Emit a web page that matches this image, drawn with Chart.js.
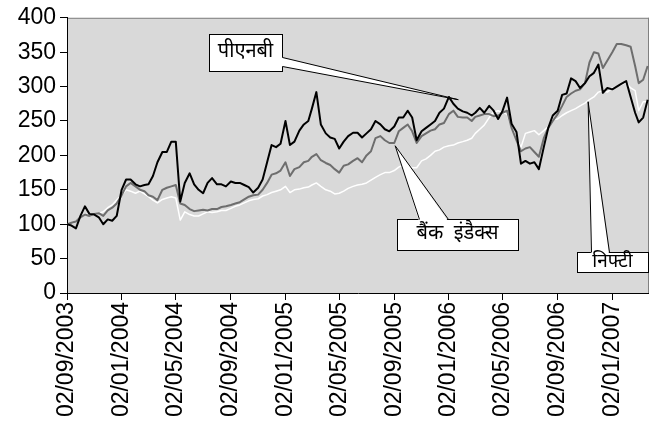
<!DOCTYPE html>
<html><head><meta charset="utf-8">
<script src="https://cdn.jsdelivr.net/npm/chart.js@4/dist/chart.umd.min.js"></script>
<style>html,body{margin:0;padding:0;background:#fff;overflow:hidden;}</style>
</head><body>
<canvas id="c" width="649" height="430"></canvas>
<script>
const dates = [
'2003-09-02','2003-09-12','2003-09-22','2003-10-02','2003-10-12','2003-10-22','2003-11-02','2003-11-12','2003-11-22','2003-12-02','2003-12-12','2003-12-22',
'2004-01-02','2004-01-12','2004-01-22','2004-02-02','2004-02-12','2004-02-22','2004-03-02','2004-03-12','2004-03-22','2004-04-02','2004-04-12','2004-04-22',
'2004-05-02','2004-05-12','2004-05-22','2004-06-02','2004-06-12','2004-06-22','2004-07-02','2004-07-12','2004-07-22','2004-08-02','2004-08-12','2004-08-22',
'2004-09-02','2004-09-12','2004-09-22','2004-10-02','2004-10-12','2004-10-22','2004-11-02','2004-11-12','2004-11-22','2004-12-02','2004-12-12','2004-12-22',
'2005-01-02','2005-01-12','2005-01-22','2005-02-02','2005-02-12','2005-02-22','2005-03-02','2005-03-12','2005-03-22','2005-04-02','2005-04-12','2005-04-22',
'2005-05-02','2005-05-12','2005-05-22','2005-06-02','2005-06-12','2005-06-22','2005-07-02','2005-07-12','2005-07-22','2005-08-02','2005-08-12','2005-08-22',
'2005-09-02','2005-09-12','2005-09-22','2005-10-02','2005-10-12','2005-10-22','2005-11-02','2005-11-12','2005-11-22','2005-12-02','2005-12-12','2005-12-22',
'2006-01-02','2006-01-12','2006-01-22','2006-02-02','2006-02-12','2006-02-22','2006-03-02','2006-03-12','2006-03-22','2006-04-02','2006-04-12','2006-04-22',
'2006-05-02','2006-05-12','2006-05-22','2006-06-02','2006-06-12','2006-06-22','2006-07-02','2006-07-12','2006-07-22','2006-08-02','2006-08-12','2006-08-22',
'2006-09-02','2006-09-12','2006-09-22','2006-10-02','2006-10-12','2006-10-22','2006-11-02','2006-11-12','2006-11-22','2006-12-02','2006-12-12','2006-12-22',
'2007-01-02','2007-01-12','2007-01-22','2007-02-02','2007-02-12','2007-02-22','2007-03-02','2007-03-12','2007-03-22'
];
const pnb = [
100,98,94, 112,126,115, 114,110,100, 107,105,112,
150,165,165, 158,155,157, 158,170,190, 205,205,220,
220,133,160, 174,158,150, 145,160,167, 158,158,155,
162,160,160, 157,154,146, 153,165,190, 215,212,217,
250,215,220, 236,245,250, 268,292,245, 232,226,224,
210,220,228, 233,233,226, 232,238,250, 245,238,235,
242,255,255, 265,255,222, 235,240,245, 250,262,268,
285,275,268, 264,262,258, 262,269,262, 272,265,253,
265,284,246, 234,188,192, 188,190,180, 212,240,258,
265,288,290, 312,308,298, 305,315,320, 332,291,298,
296,300,304, 308,285,262, 248,255,281
];
const bankIndex = [
100,102,104, 110,114,112, 115,116,112, 120,124,130,
142,155,160, 155,150,148, 142,140,135, 150,153,155,
157,130,128, 122,119,120, 121,120,122, 122,125,126,
128,130,132, 136,140,142, 143,150,160, 172,174,178,
190,170,180, 183,190,192, 198,202,193, 189,186,180,
175,185,187, 192,196,190, 200,206,225, 228,222,218,
218,235,240, 245,235,218, 228,232,236, 238,245,247,
260,265,256, 255,255,250, 256,258,260, 260,257,258,
262,265,240, 222,206,210, 212,205,198, 225,240,250,
260,272,285, 290,294,296, 305,335,350, 348,327,338,
350,362,362, 360,358,330, 305,310,330
];
const nifty = [
100,101,104, 110,115,114, 114,116,118, 124,128,135,
142,150,148, 145,148,144, 140,135,131, 136,138,140,
138,106,118, 114,112,112, 115,118,117, 118,120,120,
123,126,128, 131,134,136, 137,141,143, 146,148,150,
155,146,150, 151,153,154, 157,160,155, 150,148,144,
145,148,152, 155,157,158, 160,164,168, 172,175,175,
178,183,186, 185,182,182, 192,195,200, 206,208,212,
214,215,218, 220,222,225, 232,238,244, 255,263,265,
262,260,240, 225,212,232, 234,236,230, 236,242,252,
253,258,262, 265,268,272, 276,281,285, 292,294,292,
298,300,303, 306,298,294, 265,278,278
];
const tickLabels = ['02/09/2003','02/01/2004','02/05/2004','02/09/2004','02/01/2005','02/05/2005','02/09/2005','02/01/2006','02/05/2006','02/09/2006','02/01/2007'];
const seriesNames = ['पीएनबी','बैंक  इंडैक्स','निफ्टी'];

const START = Date.UTC(2003, 8, 2);
function isoDay(s){ const p = s.split('-').map(Number); return (Date.UTC(p[0], p[1]-1, p[2]) - START)/86400000; }
function dmyDay(s){ const p = s.split('/').map(Number); return (Date.UTC(p[2], p[1]-1, p[0]) - START)/86400000; }
const tickDays = tickLabels.map(dmyDay);
const X_MAX = isoDay('2007-03-25');

function pts(arr){ return arr.map((v,i)=>({x: isoDay(dates[i]), y: v})); }

const callouts = [
  {text: seriesNames[0], anchor: ['2006-01-23', 281], box: [209, 34, 73, 37], base: [[282, 57], [282, 66]], size: 20},
  {text: seriesNames[1], anchor: ['2005-09-04', 214], box: [397, 219, 121, 31], base: [[419, 219], [448, 219]], size: 20},
  {text: seriesNames[2], anchor: ['2006-11-09', 278], box: [577, 252, 71, 20], base: [[591, 252], [609, 252]], size: 19}
];
const hindiFont = '"Noto Sans Devanagari","Lohit Devanagari","Mangal","Noto Sans","DejaVu Sans",sans-serif';

const plotBg = {
  id: 'plotBg',
  beforeDraw(chart){
    const {ctx, chartArea: a} = chart;
    ctx.save();
    ctx.fillStyle = '#d9d9d9';
    ctx.fillRect(a.left, a.top, a.right - a.left, a.bottom - a.top);
    ctx.strokeStyle = '#808080';
    ctx.lineWidth = 1;
    ctx.beginPath();
    ctx.moveTo(a.left, a.top + 0.5); ctx.lineTo(a.right, a.top + 0.5);
    ctx.moveTo(a.right - 0.5, a.top); ctx.lineTo(a.right - 0.5, a.bottom);
    ctx.stroke();
    ctx.restore();
  }
};
const calloutPlugin = {
  id: 'callouts',
  afterDatasetsDraw(chart){
    const {ctx, scales} = chart;
    ctx.save();
    callouts.forEach(c => {
      const tx = scales.x.getPixelForValue(isoDay(c.anchor[0]));
      const ty = scales.y.getPixelForValue(c.anchor[1]);
      const [bx, by, bw, bh] = c.box;
      ctx.fillStyle = '#fff';
      ctx.strokeStyle = '#000';
      ctx.lineWidth = 1;
      ctx.fillRect(bx, by, bw, bh);
      ctx.strokeRect(bx + 0.5, by + 0.5, bw, bh);
      const [p1, p2] = c.base;
      // wedge fill (covers box border at join)
      ctx.beginPath();
      const inset = (p1[0] === p2[0]) ? [-2, 0] : [0, 2];
      ctx.moveTo(p1[0] + inset[0], p1[1] + inset[1]);
      ctx.lineTo(tx, ty);
      ctx.lineTo(p2[0] + inset[0], p2[1] + inset[1]);
      ctx.closePath();
      ctx.fill();
      ctx.beginPath();
      ctx.moveTo(p1[0] + 0.5, p1[1] + 0.5);
      ctx.lineTo(tx, ty);
      ctx.lineTo(p2[0] + 0.5, p2[1] + 0.5);
      ctx.stroke();
      ctx.fillStyle = '#000';
      ctx.font = c.size + 'px ' + hindiFont;
      ctx.textAlign = 'center';
      ctx.textBaseline = 'middle';
      ctx.fillText(c.text, bx + bw / 2, by + bh / 2 + 1);
    });
    ctx.restore();
  }
};

const axisFont = {family: '"Liberation Sans", Arial, sans-serif', size: 23};

new Chart(document.getElementById('c'), {
  type: 'line',
  data: {
    datasets: [
      {label: seriesNames[0], data: pts(pnb), borderColor: '#000000', borderWidth: 2},
      {label: seriesNames[1], data: pts(bankIndex), borderColor: '#6e6e6e', borderWidth: 2},
      {label: seriesNames[2], data: pts(nifty), borderColor: '#ffffff', borderWidth: 1.5}
    ]
  },
  options: {
    responsive: false,
    animation: false,
    devicePixelRatio: 1,
    layout: {padding: {top: 14, right: 0, left: 0, bottom: 0}},
    plugins: {legend: {display: false}, tooltip: {enabled: false}},
    elements: {point: {radius: 0}, line: {tension: 0, borderJoinStyle: 'round'}},
    scales: {
      x: {
        type: 'linear', min: 0, max: X_MAX,
        afterBuildTicks: s => { s.ticks = tickDays.map(v => ({value: v})); },
        afterFit: s => { s.height = 137; },
        ticks: {autoSkip: false, minRotation: 90, maxRotation: 90, padding: 2, color: '#000', font: axisFont,
          callback: (v, i) => tickLabels[i]},
        grid: {drawOnChartArea: false, drawTicks: true, tickLength: 7, color: '#000'},
        border: {color: '#000', width: 1}
      },
      y: {
        min: 0, max: 400,
        afterFit: s => { s.width = 67; },
        ticks: {stepSize: 50, padding: 4, color: '#000', font: axisFont},
        grid: {drawOnChartArea: false, drawTicks: true, tickLength: 7, color: '#000'},
        border: {color: '#000', width: 1}
      }
    }
  },
  plugins: [plotBg, calloutPlugin]
});
</script>
</body></html>
